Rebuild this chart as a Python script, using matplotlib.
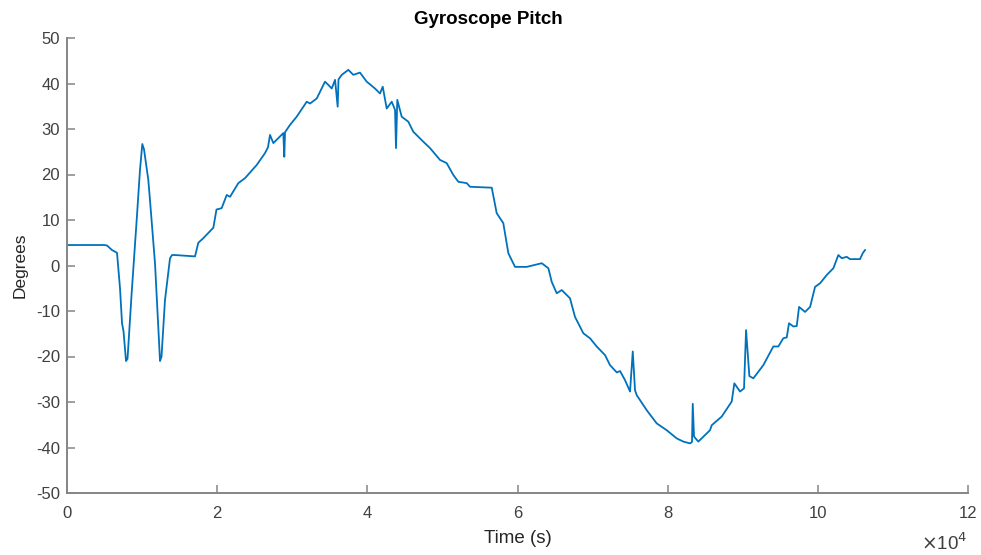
import matplotlib
matplotlib.use("Agg")
import matplotlib.pyplot as plt
import numpy as np

plt.rcParams['font.family'] = ['Liberation Sans', 'DejaVu Sans']
plt.rcParams['axes.unicode_minus'] = False

# Time (s) and pitch (degrees)
time_s = [0, 4930, 5330, 5990, 6660, 7060, 7330, 7530, 7860, 8060, 8610, 9280, 9720,
          10030, 10260, 10830, 11050, 11720, 12160, 12390, 12590, 13050, 13720, 13990,
          14380, 17050, 17490, 18150, 19490, 19910, 20600, 21270, 21710, 22820, 23710,
          25270, 26370, 26770, 27040, 27480, 28140, 28810, 28940, 29040, 29700, 30590,
          31930, 32370, 33260, 34360, 34800, 35260, 35700, 36050, 36160, 36590, 37470,
          38130, 39020, 39920, 41020, 41690, 42050, 42580, 43250, 43690, 43820, 43990,
          44580, 45460, 46120, 47460, 48350, 49680, 50570, 51450, 52120, 53240, 53680,
          56570, 57230, 58110, 58780, 59670, 61230, 63230, 64110, 64560, 65220, 65890,
          66990, 67660, 68770, 69660, 70550, 71660, 72320, 73220, 73660, 74320, 74990,
          75350, 75650, 75880, 77210, 78540, 79870, 81210, 82080, 82980, 83240, 83340,
          83510, 84080, 85640, 85870, 87200, 88530, 88880, 89640, 90170, 90440, 90880,
          91410, 92740, 94070, 94740, 95400, 95860, 96160, 96740, 97190, 97500, 98300,
          98970, 99630, 100300, 101180, 102070, 102730, 103190, 103850, 104290, 105620,
          105980, 106290]
pitch_deg = [4.5, 4.5, 4.4, 3.4, 2.8, -5.0, -12.7, -14.5, -21.0, -20.5, -6.1, 10.0, 21.0,
             26.7, 25.5, 18.8, 14.4, 0.5, -13.4, -21.0, -20.0, -7.6, 1.6, 2.3,
             2.3, 2.0, 5.0, 6.0, 8.3, 12.3, 12.6, 15.5, 15.1, 18.1, 19.2,
             22.1, 24.7, 26.0, 28.7, 26.9, 28.0, 29.1, 23.9, 29.3, 30.9, 32.7,
             36.0, 35.6, 36.7, 40.4, 39.7, 38.9, 40.8, 34.9, 40.9, 41.9, 43.0,
             41.9, 42.4, 40.4, 38.9, 37.8, 39.3, 34.5, 36.0, 34.2, 25.8, 36.4,
             32.7, 31.6, 29.4, 27.2, 25.8, 23.2, 22.5, 19.9, 18.4, 18.1, 17.3,
             17.1, 11.5, 9.3, 2.7, -0.3, -0.3, 0.5, -0.6, -3.6, -6.1, -5.4,
             -7.2, -11.3, -14.9, -16.0, -17.8, -19.7, -21.9, -23.5, -23.2, -25.2, -27.7,
             -18.9, -27.4, -28.5, -31.8, -34.7, -36.2, -38.0, -38.7, -39.1, -38.8, -30.4,
             -37.6, -38.7, -36.2, -35.1, -33.2, -29.9, -25.9, -27.7, -27.0, -14.2, -24.3,
             -24.8, -21.9, -17.8, -17.8, -16.0, -15.8, -12.7, -13.4, -13.3, -9.1, -10.2,
             -9.1, -4.7, -3.9, -2.1, -0.6, 2.3, 1.6, 1.9, 1.4, 1.4,
             2.7, 3.4]

x_ticks = [0, 20000, 40000, 60000, 80000, 100000, 120000]
x_tick_labels = ['0', '2', '4', '6', '8', '10', '12']
y_ticks = [-50, -40, -30, -20, -10, 0, 10, 20, 30, 40, 50]

fig = plt.figure(figsize=(9.81, 5.55), dpi=100)
ax = fig.add_axes([67/981, 1 - 493/555, (968 - 67)/981, (493 - 38)/555])

ax.plot(time_s, pitch_deg, color='#0072BD', linewidth=1.3)

ax.set_xlim(0, 120000)
ax.set_ylim(-50, 50)
ax.set_xticks(x_ticks)
ax.set_xticklabels(x_tick_labels)
ax.set_yticks(y_ticks)

grey = '#858585'
for side in ['top', 'right']:
    ax.spines[side].set_visible(False)
for side in ['left', 'bottom']:
    ax.spines[side].set_color(grey)
    ax.spines[side].set_linewidth(1.4)
ax.tick_params(direction='in', length=5.5, width=1.1, color=grey,
               labelsize=12, labelcolor='#404040')
ax.tick_params(axis='x', pad=9)
ax.tick_params(axis='y', pad=5)

ax.set_xlabel('Time (s)', fontsize=13.5, color='#262626', labelpad=7)
ax.set_ylabel('Degrees', fontsize=12.5, color='#262626', labelpad=6)
fig.text(488/981, 1 - 20/555, 'Gyroscope Pitch', ha='center', va='center',
         fontsize=13.5, fontweight='bold', color='#000000')
fig.text(921/981, 1 - 543/555, r'$\times$10$^{4}$', ha='left', va='center',
         fontsize=13.5, color='#404040')

fig.savefig('out.png', dpi=100)
